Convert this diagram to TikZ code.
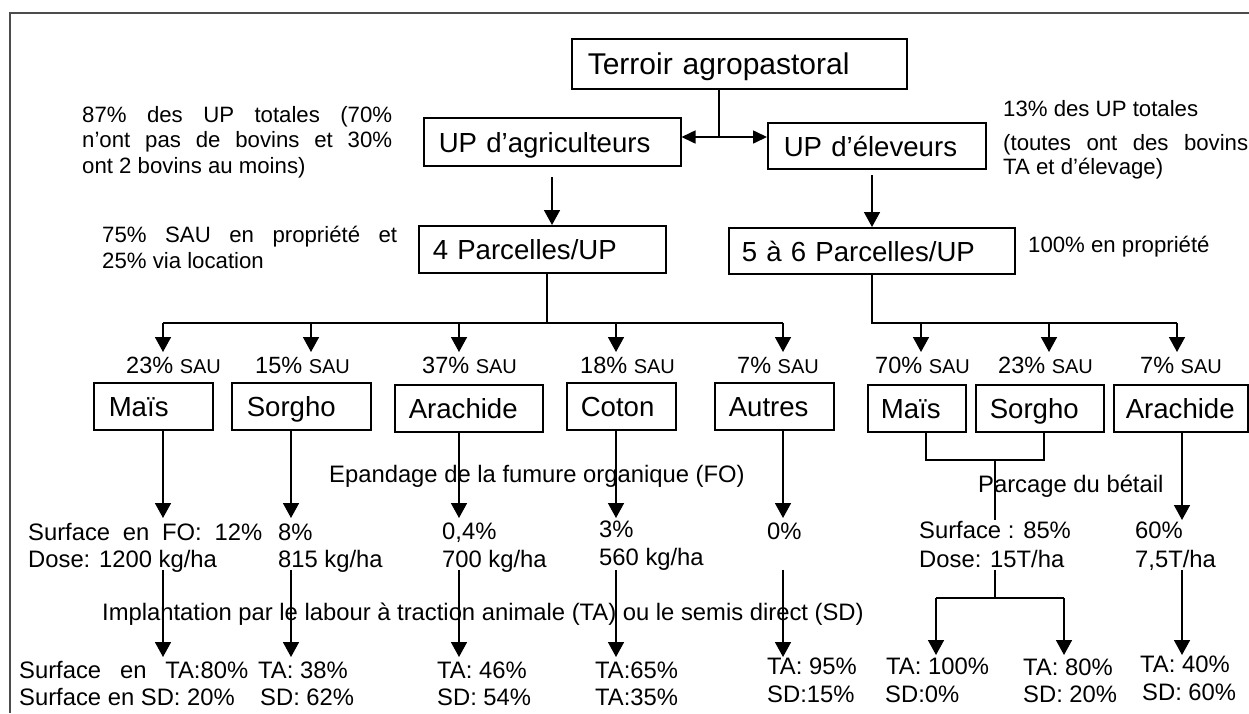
\documentclass[tikz,border=0pt]{standalone}
\usepackage{fontspec}
\setmainfont{Liberation Sans}
\usetikzlibrary{arrows.meta}
\begin{document}
\begin{tikzpicture}[x=1pt,y=-1pt,
  ln/.style={line width=1.6pt},
  arr/.style={ln,-{Triangle[width=16pt,length=15pt]}},
  dbl/.style={ln,{Triangle[width=13pt,length=14pt]}-{Triangle[width=13pt,length=14pt]}},
  bx/.style={draw, line width=1.5pt, anchor=north west, inner ysep=0pt, align=left,
    text height=20.5pt, text depth=0pt, font=\fontsize{27.6}{30}\selectfont},
  tx/.style={anchor=base west, inner sep=0pt, font=\fontsize{23.8}{26}\selectfont},
  ds/.style={anchor=base west, inner sep=0pt, font=\fontsize{22.2}{25}\selectfont},
  sau/.style={anchor=base west, inner sep=0pt, font=\fontsize{23.5}{26}\selectfont},
  framec/.style={line width=1.2pt, draw=black!70}]
\useasboundingbox (0,0) rectangle (1249,713);
\draw[framec] (10,713) -- (10,13) -- (1249,13);

% boxes
\node[bx, minimum width=335pt, minimum height=50pt, inner xsep=16pt, text width=303pt,
  text height=21.5pt, font=\fontsize{30}{32}\selectfont] (T) at (571,38) {Terroir agropastoral};
\node[bx, minimum width=257pt, minimum height=48pt, inner xsep=15pt, text width=227pt] (UPa) at (423,117) {UP d’agriculteurs};
\node[bx, minimum width=218pt, minimum height=46pt, inner xsep=16pt, text width=186pt] (UPe) at (767,122) {UP d’éleveurs};
\node[bx, minimum width=247pt, minimum height=47pt, inner xsep=14pt, text width=219pt] (P4) at (418,225) {4 Parcelles/UP};
\node[bx, minimum width=286pt, minimum height=46pt, inner xsep=13pt, text width=260pt] (P56) at (728,227) {5 à 6 Parcelles/UP};
\node[bx, minimum width=119pt, minimum height=47pt, inner xsep=15pt, text width=89pt] (Mais) at (93,382) {Maïs};
\node[bx, minimum width=139pt, minimum height=47pt, inner xsep=15pt, text width=109pt] (Sorgho) at (231,382) {Sorgho};
\node[bx, minimum width=148pt, minimum height=47pt, inner xsep=14pt, text width=120pt] (Arach) at (394,384) {Arachide};
\node[bx, minimum width=109pt, minimum height=47pt, inner xsep=14pt, text width=81pt] (Coton) at (566,382) {Coton};
\node[bx, minimum width=119pt, minimum height=47pt, inner xsep=14pt, text width=91pt] (Autres) at (714,382) {Autres};
\node[bx, minimum width=98pt, minimum height=47pt, inner xsep=13pt, text width=72pt] (MaisR) at (867,384) {Maïs};
\node[bx, minimum width=128pt, minimum height=47pt, inner xsep=14pt, text width=100pt] (SorghoR) at (975,384) {Sorgho};
\node[bx, minimum width=134pt, minimum height=47pt, inner xsep=12pt, text width=110pt] (ArachR) at (1113,384) {Arachide};

% descriptive texts
\node[ds] (d1a) at (82,122) {\makebox[310pt][s]{87\% des UP totales (70\%}};
\node[ds] (d1b) at (82,147) {\makebox[310pt][s]{n’ont pas de bovins et 30\%}};
\node[ds] (d1c) at (82,173) {ont 2 bovins au moins)};
\node[ds] (d2a) at (102,242) {\makebox[295pt][s]{75\% SAU en propriété et}};
\node[ds] (d2b) at (102,268) {25\% via location};
\node[ds] (d3a) at (1003,116) {13\% des UP totales};
\node[ds] (d3b) at (1003,150) {\makebox[245pt][s]{(toutes ont des bovins}};
\node[ds] (d3c) at (1003,174) {TA et d’élevage)};
\node[ds] (d4) at (1028,252) {100\% en propriété};

% SAU labels
\node[sau] (s1) at (126,373) {23\% {\fontsize{20}{22}\selectfont SAU}};
\node[sau] (s2) at (255,373) {15\% {\fontsize{20}{22}\selectfont SAU}};
\node[sau] (s3) at (422,373) {37\% {\fontsize{20}{22}\selectfont SAU}};
\node[sau] (s4) at (580,373) {18\% {\fontsize{20}{22}\selectfont SAU}};
\node[sau] (s5) at (737,373) {7\% {\fontsize{20}{22}\selectfont SAU}};
\node[sau] (s6) at (875,373) {70\% {\fontsize{20}{22}\selectfont SAU}};
\node[sau] (s7) at (998,373) {23\% {\fontsize{20}{22}\selectfont SAU}};
\node[sau] (s8) at (1140,373) {7\% {\fontsize{20}{22}\selectfont SAU}};

% section titles
\node[tx] (epa) at (329,482) {Epandage de la fumure organique (FO)};
\node[tx] (parc) at (978,492) {Parcage du bétail};
\node[tx] (impl) at (102,620) {Implantation par le labour à traction animale (TA) ou le semis direct (SD)};

% values row 1
\node[tx] (v1a) at (28,540) {\makebox[234pt][s]{Surface en FO: 12\%}};
\node[tx] (v1b) at (28,567) {Dose: 1200 kg/ha};
\node[tx] (v2a) at (278,540) {8\%};
\node[tx] (v2b) at (278,567) {815 kg/ha};
\node[tx] (v3a) at (442,539) {0,4\%};
\node[tx] (v3b) at (442,567) {700 kg/ha};
\node[tx] (v4a) at (599,537) {3\%};
\node[tx] (v4b) at (599,565) {560 kg/ha};
\node[tx] (v5a) at (767,539) {0\%};
\node[tx] (v6a) at (919,538) {Surface : 85\%};
\node[tx] (v6b) at (919,567) {Dose: 15T/ha};
\node[tx] (v7a) at (1135,538) {60\%};
\node[tx] (v7b) at (1135,567) {7,5T/ha};

% values row 2
\node[tx] (r1a) at (19,678) {\makebox[229pt][s]{Surface en TA:80\%}};
\node[tx] (r1b) at (19,705) {Surface en SD: 20\%};
\node[tx] (r2a) at (258,678) {TA: 38\%};
\node[tx] (r2b) at (260,705) {SD: 62\%};
\node[tx] (r3a) at (437,678) {TA: 46\%};
\node[tx] (r3b) at (437,705) {SD: 54\%};
\node[tx] (r4a) at (595,678) {TA:65\%};
\node[tx] (r4b) at (595,705) {TA:35\%};
\node[tx] (r5a) at (767,674) {TA: 95\%};
\node[tx] (r5b) at (767,702) {SD:15\%};
\node[tx] (r6a) at (886,674) {TA: 100\%};
\node[tx] (r6b) at (885,702) {SD:0\%};
\node[tx] (r7a) at (1023,675) {TA: 80\%};
\node[tx] (r7b) at (1023,702) {SD: 20\%};
\node[tx] (r8a) at (1140,672) {TA: 40\%};
\node[tx] (r8b) at (1142,700) {SD: 60\%};

% coordinates
\coordinate (jT) at (719,137);
\coordinate (a1) at (552,177);
\coordinate (a2) at (872,175);
\coordinate (bL) at (547,323);
\coordinate (bR) at (872,323);
\foreach \n/\x in {1/163,2/311,3/459,4/616,5/783,6/921,7/1049,8/1177}{
  \coordinate (u\n) at (\x,323); \coordinate (v\n) at (\x,352);}
\foreach \n/\x in {1/163,2/291,3/459,4/616,5/783}{
  \coordinate (w\n) at (\x,518); \coordinate (p\n) at (\x,570); \coordinate (q\n) at (\x,657);}
\coordinate (w8) at (1182,520);
\coordinate (p8) at (1182,570);
\coordinate (q8) at (1182,655);
\coordinate (m1) at (926,460);
\coordinate (m2) at (1044,460);
\coordinate (m3) at (995,460);
\coordinate (m4) at (995,520);
\coordinate (n1) at (995,570);
\coordinate (n2) at (995,598);
\coordinate (n3) at (936,598);
\coordinate (n4) at (1064,598);
\coordinate (o3) at (936,655);
\coordinate (o4) at (1064,655);

% connectors
\draw[ln] (T.south -| jT) -- (jT);
\draw[dbl] (UPa.east |- jT) -- (UPe.west |- jT);
\draw[arr] (a1) -- (a1 |- P4.north);
\draw[arr] (a2) -- (a2 |- P56.north);
\draw[ln] (P4.south -| bL) -- (bL);
\draw[ln] (u1) -- (u5);
\draw[ln] (P56.south -| bR) -- (bR) -- (u8);
\foreach \n in {1,...,8} \draw[arr] (u\n) -- (v\n);
\draw[arr] (Mais.south -| w1) -- (w1);
\draw[arr] (Sorgho.south -| w2) -- (w2);
\draw[arr] (Arach.south -| w3) -- (w3);
\draw[arr] (Coton.south -| w4) -- (w4);
\draw[arr] (Autres.south -| w5) -- (w5);
\draw[ln] (MaisR.south -| m1) -- (m1) -- (m2) -- (SorghoR.south -| m2);
\draw[ln] (m3) -- (m4);
\draw[arr] (ArachR.south -| w8) -- (w8);
\foreach \n in {1,...,5} \draw[arr] (p\n) -- (q\n);
\draw[arr] (p8) -- (q8);
\draw[ln] (n1) -- (n2);
\draw[ln] (n3) -- (n4);
\draw[arr] (n3) -- (o3);
\draw[arr] (n4) -- (o4);
\end{tikzpicture}
\end{document}
